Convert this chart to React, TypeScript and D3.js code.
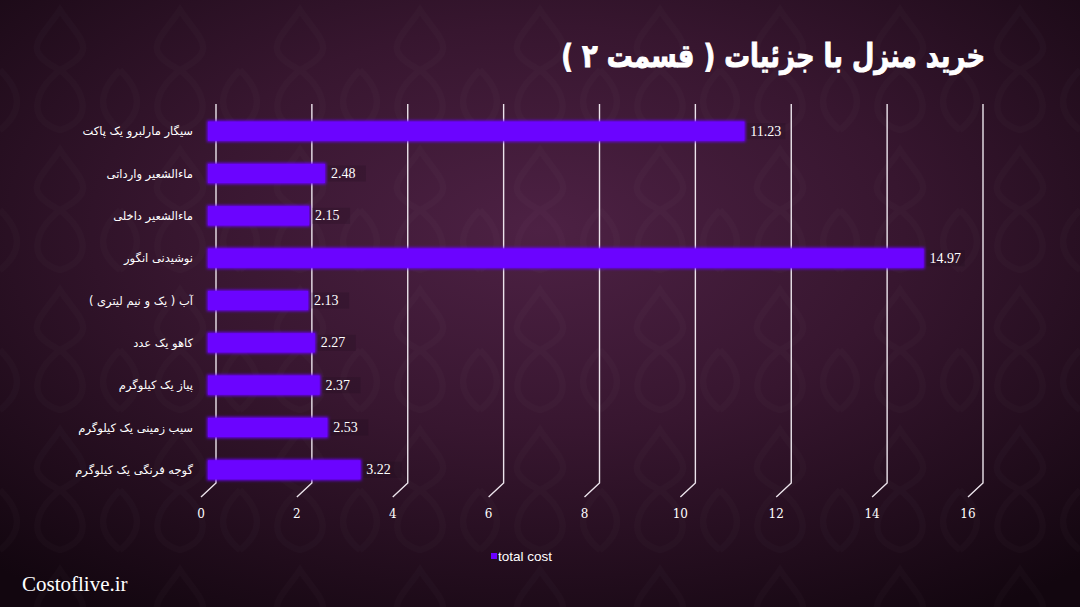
import React from "react";
import * as d3 from "d3";

const W = 1080;
const H = 607;

const TITLE = "خرید منزل با جزئیات ( قسمت ۲ )";
const categories = [
  "سیگار مارلبرو یک پاکت",
  "ماءالشعیر وارداتی",
  "ماءالشعیر داخلی",
  "نوشیدنی انگور",
  "آب ( یک و نیم لیتری )",
  "کاهو  یک عدد",
  "پیاز یک کیلوگرم",
  "سیب زمینی یک کیلوگرم",
  "گوجه فرنگی یک کیلوگرم",
];
const values = [11.23, 2.48, 2.15, 14.97, 2.13, 2.27, 2.37, 2.53, 3.22];
const ticks = [0, 2, 4, 6, 8, 10, 12, 14, 16];
const seriesName = "total cost";
const watermark = "Costoflive.ir";

export default function App() {
  const barX = d3.scaleLinear().domain([0, 16]).range([207, 974]);
  const backX = d3.scaleLinear().domain([0, 16]).range([216, 983]);
  const frontX = d3.scaleLinear().domain([0, 16]).range([201, 968]);
  const y = d3
    .scaleBand<string>()
    .domain(categories)
    .range([110, 491])
    .paddingInner(0.5)
    .paddingOuter(0.25);

  const gridTop = 104;
  const gridBottom = 483;
  const floorY = 497;

  return (
    <svg
      width={W}
      height={H}
      style={{ position: "absolute", left: 0, top: 0 }}
    >
      <defs>
        <radialGradient id="bg" cx="0.5" cy="0.38" r="0.75">
          <stop offset="0" stopColor="#4d2144" />
          <stop offset="0.45" stopColor="#37162f" />
          <stop offset="1" stopColor="#12060f" />
        </radialGradient>
        <pattern
          id="damask"
          width="120"
          height="140"
          patternUnits="userSpaceOnUse"
        >
          <path
            d="M60 10 C80 40 100 50 60 70 C20 50 40 40 60 10 Z M60 70 C85 90 95 120 60 130 C25 120 35 90 60 70 Z M0 70 C20 90 25 110 0 130 M120 70 C100 90 95 110 120 130"
            fill="none"
            stroke="#ffffff"
            strokeOpacity="0.015"
            strokeWidth="6"
          />
        </pattern>
        <filter id="glow" x="-5%" y="-40%" width="110%" height="180%">
          <feGaussianBlur stdDeviation="1.6" />
        </filter>
      </defs>
      <rect x={0} y={0} width={W} height={H} fill="url(#bg)" />
      <rect x={0} y={0} width={W} height={H} fill="url(#damask)" />

      {/* title */}
      <g transform="translate(985,67) scale(0.86,1.08)">
        <text
          x={0}
          y={0}
          direction="rtl"
          textAnchor="start"
          fill="#ffffff"
          stroke="#ffffff"
          strokeWidth={0.9}
          fontFamily="'DejaVu Sans', sans-serif"
          fontWeight="bold"
          fontSize={30}
        >
          {TITLE}
        </text>
      </g>

      {/* gridlines (back wall + floor diagonal) */}
      {ticks.map((t) => (
        <polyline
          key={"g" + t}
          points={`${backX(t)},${gridTop} ${backX(t)},${gridBottom} ${frontX(
            t
          )},${floorY}`}
          fill="none"
          stroke="#ece4ec"
          strokeWidth={1.4}
        />
      ))}

      {/* tick labels */}
      {ticks.map((t) => (
        <text
          key={"t" + t}
          x={frontX(t)}
          y={518}
          textAnchor="middle"
          fill="#ffffff"
          fontFamily="'DejaVu Serif', serif"
          fontSize={12}
        >
          {t}
        </text>
      ))}

      {/* bars */}
      {categories.map((c, i) => {
        const y0 = y(c) as number;
        const bw = y.bandwidth();
        const x1 = barX(values[i]);
        return (
          <g key={"b" + i}>
            <rect
              x={barX(0)}
              y={y0}
              width={x1 - barX(0)}
              height={bw}
              fill="#6a00ff"
              filter="url(#glow)"
            />
            <rect
              x={barX(0) + 1}
              y={y0 + 1}
              width={x1 - barX(0) - 2}
              height={bw - 2}
              fill="#6b04ff"
            />
            <rect
              x={x1 + 2}
              y={y0 + bw / 2 - 8}
              width={38}
              height={16}
              fill="#1a0a18"
              opacity={0.2}
            />
            <text
              x={x1 + 5}
              y={y0 + bw / 2 + 4.5}
              fill="#ffffff"
              fontFamily="'Liberation Serif', serif"
              fontSize={14}
            >
              {values[i].toFixed(2)}
            </text>
          </g>
        );
      })}

      {/* category labels */}
      {categories.map((c) => (
        <text
          key={"c" + c}
          x={193}
          y={(y(c) as number) + y.bandwidth() / 2 + 4}
          textAnchor="start"
          direction="rtl"
          fill="#ffffff"
          fontFamily="'DejaVu Sans', sans-serif"
          fontSize={11.5}
        >
          {c}
        </text>
      ))}

      {/* legend */}
      <rect x={491} y={553} width={6} height={6} fill="#6a00ff" />
      <text
        x={498}
        y={561}
        fill="#ffffff"
        fontFamily="'Liberation Sans', Arial, sans-serif"
        fontSize={13.5}
      >
        {seriesName}
      </text>

      {/* watermark */}
      <text
        x={22}
        y={591}
        fill="#ffffff"
        fontFamily="'Liberation Serif', serif"
        fontSize={21}
      >
        {watermark}
      </text>
    </svg>
  );
}
